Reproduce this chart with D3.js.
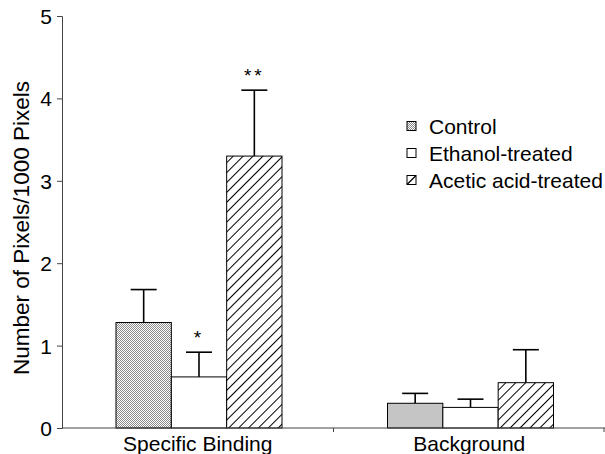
<!DOCTYPE html>
<html>
<head>
<meta charset="utf-8">
<script src="https://cdn.jsdelivr.net/npm/d3@7"></script>
<style>
  body { margin: 0; background: #fff; }
  text { font-family: "Liberation Sans", Arial, sans-serif; fill: #000; }
</style>
</head>
<body>
<div class="chart"></div>
<script>
const categories = ["Specific Binding", "Background"]
const groups = ["Control", "Ethanol-treated", "Acetic acid-treated"]
const means = [[1.28, 0.62, 3.3], [0.3, 0.25, 0.55]]
const errors = [[0.4, 0.3, 0.8], [0.12, 0.1, 0.4]]
const marks = [["", "*", "**"], ["", "", ""]]
const yTicks = [0, 1, 2, 3, 4, 5]

const width = 605, height = 454
const svg = d3.select(".chart").append("svg")
  .attr("width", width).attr("height", height)

// fill patterns
const defs = svg.append("defs")
const dots = defs.append("pattern").attr("id", "dots")
  .attr("patternUnits", "userSpaceOnUse").attr("width", 2).attr("height", 2)
dots.append("rect").attr("width", 2).attr("height", 2).attr("fill", "#fff")
dots.append("rect").attr("width", 1).attr("height", 1).attr("fill", "#8a8a8a")
dots.append("rect").attr("x", 1).attr("y", 1).attr("width", 1).attr("height", 1).attr("fill", "#8a8a8a")

const hatch = defs.append("pattern").attr("id", "hatch")
  .attr("patternUnits", "userSpaceOnUse").attr("width", 7).attr("height", 7)
  .attr("patternTransform", "rotate(45)")
hatch.append("rect").attr("width", 7).attr("height", 7).attr("fill", "#fff")
hatch.append("line").attr("x1", 0).attr("y1", 0).attr("x2", 0).attr("y2", 7)
  .attr("stroke", "#000").attr("stroke-width", 2)

const fills = ["url(#dots)", "#fff", "url(#hatch)"]

const x0 = d3.scaleBand().domain(categories).range([62, 605]).paddingInner(0).paddingOuter(0)
const x1 = d3.scaleBand().domain(groups).range([54, 220])
const y = d3.scaleLinear().domain([0, 5]).range([428, 16])

// y axis
const yAxis = svg.append("g").attr("transform", "translate(62,0)")
  .call(d3.axisLeft(y).tickValues(yTicks).tickSize(5).tickFormat(d3.format("d")))
yAxis.select(".domain").attr("stroke", "#444")
yAxis.selectAll(".tick line").attr("stroke", "#444")
yAxis.selectAll("text").attr("font-size", 21).attr("x", -10).attr("dy", "0.36em")
  .style("font-family", "Liberation Sans, Arial, sans-serif")

svg.append("text").attr("transform", "translate(29,228) rotate(-90)")
  .attr("text-anchor", "middle").attr("font-size", 22.5)
  .text("Number of Pixels/1000 Pixels")

// bars
categories.forEach((c, ci) => {
  const g = svg.append("g").attr("transform", `translate(${x0(c)},0)`)
  groups.forEach((gr, gi) => {
    const bx = x1(gr), bw = x1.bandwidth(), cx = bx + bw / 2
    const top = y(means[ci][gi] + errors[ci][gi])
    g.append("line").attr("x1", cx).attr("x2", cx)
      .attr("y1", y(means[ci][gi])).attr("y2", top)
      .attr("stroke", "#000").attr("stroke-width", 1.6)
    g.append("line").attr("x1", cx - 13).attr("x2", cx + 13)
      .attr("y1", top).attr("y2", top)
      .attr("stroke", "#000").attr("stroke-width", 1.6)
    g.append("rect").attr("x", bx).attr("width", bw)
      .attr("y", y(means[ci][gi])).attr("height", y(0) - y(means[ci][gi]))
      .attr("fill", fills[gi]).attr("stroke", "#000").attr("stroke-width", 1)
    if (marks[ci][gi]) {
      g.append("text").attr("x", cx).attr("y", top - 8)
        .attr("text-anchor", "middle").attr("font-size", 19)
        .attr("letter-spacing", 3)
        .text(marks[ci][gi])
    }
  })
})

// x axis
const xAxis = svg.append("g").attr("transform", "translate(0,428)")
xAxis.append("line").attr("x1", 62).attr("x2", 605).attr("stroke", "#444")
const bounds = [x0(categories[1]), 604]
xAxis.selectAll(".tk").data(bounds).join("line")
  .attr("x1", d => d).attr("x2", d => d).attr("y1", 0).attr("y2", 4).attr("stroke", "#444")
xAxis.selectAll(".lbl").data(categories).join("text")
  .attr("x", d => x0(d) + x0.bandwidth() / 2).attr("y", 23)
  .attr("text-anchor", "middle").attr("font-size", 21)
  .text(d => d)

// legend
const legend = svg.append("g").attr("transform", "translate(407,126)")
groups.forEach((gr, i) => {
  const row = legend.append("g").attr("transform", `translate(0,${i * 27})`)
  row.append("rect").attr("x", 0).attr("y", -4.5).attr("width", 9).attr("height", 9)
    .attr("fill", i == 2 ? "#fff" : fills[i]).attr("stroke", "#000").attr("stroke-width", 1)
  if (i == 2) row.append("line").attr("x1", 0).attr("y1", 4.5).attr("x2", 9).attr("y2", -4.5)
    .attr("stroke", "#000").attr("stroke-width", 1.3)
  row.append("text").attr("x", 22).attr("y", 0).attr("dy", "0.36em")
    .attr("font-size", 21).text(gr)
})
</script>
</body>
</html>
